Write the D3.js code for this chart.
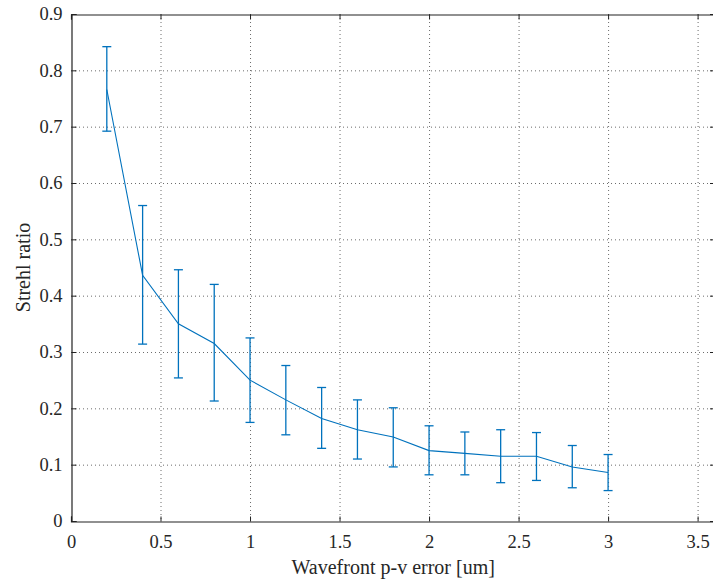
<!DOCTYPE html>
<html>
<head>
<meta charset="utf-8">
<script src="https://d3js.org/d3.v7.min.js"></script>
<style>
  body { margin: 0; background: #fff; }
  svg { display: block; font-family: "Liberation Serif", "Times New Roman", serif; }
  svg .tick text { font-family: "Liberation Serif", "Times New Roman", serif; font-size: 18.5px; fill: #262626; }
</style>
</head>
<body>
<script>
// wavefront error vs strehl ratio, mean with min/max bars
var errors = [0.2, 0.4, 0.6, 0.8, 1.0, 1.2, 1.4, 1.6, 1.8, 2.0, 2.2, 2.4, 2.6, 2.8, 3.0];
var strehlMean = [0.766, 0.436, 0.350, 0.315, 0.250, 0.215, 0.182, 0.162, 0.149, 0.125, 0.120, 0.115, 0.115, 0.096, 0.086];
var strehlUpper = [0.842, 0.560, 0.446, 0.420, 0.325, 0.276, 0.237, 0.215, 0.201, 0.169, 0.158, 0.162, 0.157, 0.134, 0.118];
var strehlLower = [0.692, 0.314, 0.254, 0.213, 0.175, 0.153, 0.129, 0.110, 0.096, 0.082, 0.082, 0.068, 0.072, 0.059, 0.054];
var xTicks = [0, 0.5, 1, 1.5, 2, 2.5, 3, 3.5];
var yTicks = [0, 0.1, 0.2, 0.3, 0.4, 0.5, 0.6, 0.7, 0.8, 0.9];

var width = 713, height = 585;
// plot box (window.top is reserved, so no bare "top")
var pL = 71, pT = 14, pR = 715.5, pB = 521;
var blue = "#0072BD";

var svg = d3.select("body").append("svg")
  .attr("width", width)
  .attr("height", height);

var x = d3.scaleLinear().domain([0, 3.6]).range([pL, pR]);
var y = d3.scaleLinear().domain([0, 0.9]).range([pB, pT]);

var pts = errors.map(function(e, i) {
  return { x: e, m: strehlMean[i], hi: strehlUpper[i], lo: strehlLower[i] };
});

// grid (dotted)
var grid = svg.append("g").attr("stroke", "#333").attr("stroke-width", 0.9)
  .attr("stroke-dasharray", "1,3").attr("opacity", 0.8);
grid.selectAll(".gx").data(xTicks.slice(1)).enter().append("line")
  .attr("x1", function(d) { return x(d) + 0.5 }).attr("x2", function(d) { return x(d) + 0.5 })
  .attr("y1", pT).attr("y2", pB);
grid.selectAll(".gy").data(yTicks.slice(1, -1)).enter().append("line")
  .attr("y1", function(d) { return y(d) + 0.5 }).attr("y2", function(d) { return y(d) + 0.5 })
  .attr("x1", pL).attr("x2", pR);

// axes with inward ticks
var fmt = function(d) { return d3.format("")(d) };
var xAxis = d3.axisBottom(x).tickValues(xTicks).tickSize(-5).tickPadding(13).tickFormat(fmt);
var yAxis = d3.axisLeft(y).tickValues(yTicks).tickSize(-5).tickPadding(9).tickFormat(fmt);

svg.append("g").attr("transform", "translate(0," + (pB + 0.5) + ")").call(xAxis);
svg.append("g").attr("transform", "translate(" + (pL + 0.5) + ",0)").call(yAxis);
svg.append("g").attr("transform", "translate(0," + (pT + 0.5) + ")")
  .call(d3.axisTop(x).tickValues(xTicks).tickSize(-5).tickFormat(""));
svg.append("g").attr("transform", "translate(" + (pR - 0.5) + ",0)")
  .call(d3.axisRight(y).tickValues(yTicks).tickSize(-5).tickFormat(""));

svg.selectAll(".domain").attr("stroke", "#222").attr("stroke-width", 1.2);
svg.selectAll(".tick line").attr("stroke", "#222");

// error bars
var capW = 4.5;
var bars = svg.append("g").attr("stroke", blue).attr("stroke-width", 1.3).attr("fill", "none");
bars.selectAll(".v").data(pts).enter().append("line")
  .attr("x1", function(d) { return x(d.x) }).attr("x2", function(d) { return x(d.x) })
  .attr("y1", function(d) { return y(d.hi) }).attr("y2", function(d) { return y(d.lo) });
bars.selectAll(".ct").data(pts).enter().append("line")
  .attr("x1", function(d) { return x(d.x) - capW }).attr("x2", function(d) { return x(d.x) + capW })
  .attr("y1", function(d) { return y(d.hi) }).attr("y2", function(d) { return y(d.hi) });
bars.selectAll(".cb").data(pts).enter().append("line")
  .attr("x1", function(d) { return x(d.x) - capW }).attr("x2", function(d) { return x(d.x) + capW })
  .attr("y1", function(d) { return y(d.lo) }).attr("y2", function(d) { return y(d.lo) });

// mean line
svg.append("path").datum(pts)
  .attr("fill", "none").attr("stroke", blue).attr("stroke-width", 1.1)
  .attr("d", d3.line().x(function(d) { return x(d.x) }).y(function(d) { return y(d.m) }));

// labels
svg.append("text")
  .attr("x", (pL + pR) / 2).attr("y", 574)
  .attr("text-anchor", "middle").attr("fill", "#262626")
  .attr("font-size", 20)
  .text("Wavefront p-v error [um]");

svg.append("text")
  .attr("transform", "translate(30," + ((pT + pB) / 2) + ") rotate(-90)")
  .attr("text-anchor", "middle").attr("fill", "#262626")
  .attr("font-size", 20)
  .text("Strehl ratio");
</script>
</body>
</html>
